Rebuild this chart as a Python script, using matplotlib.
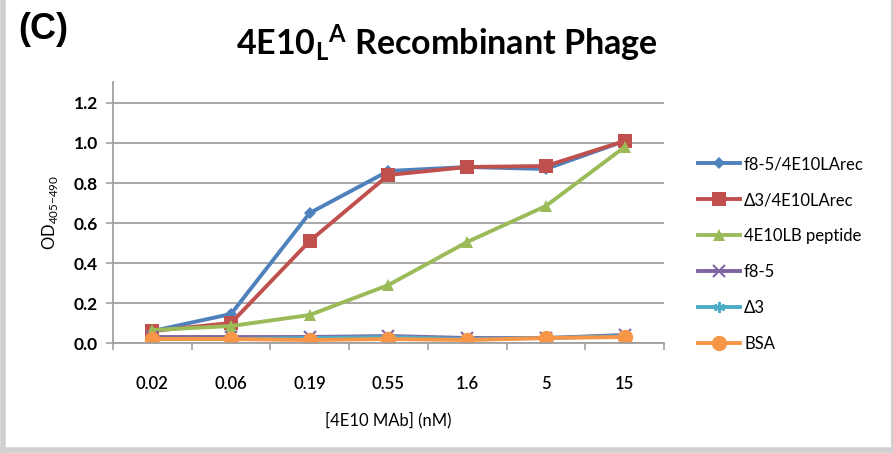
import numpy as np
import matplotlib
matplotlib.use("Agg")
import matplotlib.pyplot as plt
from matplotlib.lines import Line2D

##### Data #####
conc_labels = ["0.02", "0.06", "0.19", "0.55", "1.6", "5", "15"]
f85_4e10 = [0.06, 0.145, 0.65, 0.86, 0.88, 0.87, 1.01]
d3_4e10 = [0.06, 0.10, 0.51, 0.84, 0.88, 0.885, 1.01]
pep_4e10lb = [0.065, 0.085, 0.14, 0.29, 0.505, 0.685, 0.98]
f85 = [0.03, 0.03, 0.03, 0.035, 0.025, 0.025, 0.04]
d3 = [0.02, 0.02, 0.025, 0.03, 0.02, 0.025, 0.035]
bsa = [0.02, 0.02, 0.015, 0.02, 0.015, 0.025, 0.03]

series_names = ["f8-5/4E10LArec", "Δ3/4E10LArec", "4E10LB peptide", "f8-5", "Δ3", "BSA"]
series_vals = [f85_4e10, d3_4e10, pep_4e10lb, f85, d3, bsa]
colors = ["#4F81BD", "#C0504D", "#9BBB59", "#8064A2", "#4BACC6", "#F79646"]
markers = ["D", "s", "^", "x", (6, 2, 0), "o"]
msizes = [6, 10, 9, 8, 8, 11]

plt.rcParams['font.family'] = ['Lato', 'DejaVu Sans']
plt.rcParams['mathtext.fontset'] = 'custom'
plt.rcParams['mathtext.rm'] = 'Lato'
plt.rcParams['mathtext.bf'] = 'Lato:bold'

fig = plt.figure(figsize=(8.93, 4.53), dpi=100)
ax = fig.add_axes([0.1265, 0.2428, 0.617, 0.5762])

x = np.arange(len(conc_labels))
for name, vals, c, m, ms in zip(series_names, series_vals, colors, markers, msizes):
    mew = 1.5 if m in ("x", (6, 2, 0)) else 0
    ax.plot(x, vals, color=c, linewidth=2.8, marker=m, markersize=ms,
            markeredgewidth=mew, markeredgecolor=c, label=name)

ax.set_xlim(-0.5, len(conc_labels) - 0.5)
ax.set_ylim(0, 1.305)
ax.set_yticks(np.arange(0, 1.21, 0.2))
ax.set_yticklabels(["%.1f" % v for v in np.arange(0, 1.21, 0.2)], fontsize=12.5, fontweight='bold')
ax.set_xticks(x)
ax.set_xticklabels(conc_labels, fontsize=12, fontweight='semibold')
ax.set_xticks(np.arange(-0.5, len(conc_labels)), minor=True)
ax.tick_params(axis='x', which='major', length=0, pad=24)
ax.tick_params(axis='x', which='minor', length=5, color='#A0A0A0', width=1.2)
ax.tick_params(axis='y', length=5, color='#A0A0A0', width=1.2, pad=6)
ax.grid(axis='y', color='#A0A0A0', linewidth=1.3)
ax.set_axisbelow(True)
for s in ["top", "right"]:
    ax.spines[s].set_visible(False)
ax.spines["left"].set_color('#A0A0A0')
ax.spines["bottom"].set_color('#A0A0A0')
ax.spines["left"].set_linewidth(1.3)
ax.spines["bottom"].set_linewidth(1.3)

ax.set_xlabel("[4E10 MAb] (nM)", fontsize=12, labelpad=14)
ax.set_ylabel("OD$_{405\\mathrm{-}490}$", fontsize=12, labelpad=10)

fig.text(0.5, 0.905, "$\\mathbf{4E10_{L}{}^{A}}$ Recombinant Phage",
         ha='center', va='center', fontsize=24.5, fontweight='bold')
fig.text(0.02, 0.935, "(C)", ha='left', va='center', fontsize=26, fontweight='bold',
         family=['Liberation Sans', 'DejaVu Sans'])

leg = ax.legend(loc='center left', bbox_to_anchor=(1.035, 0.34), frameon=False,
                fontsize=12, labelspacing=1.2, handlelength=2.5, handletextpad=0.25)

# gray window border like the screenshot (left, bottom, right)
fig.add_artist(Line2D([0.003, 0.003], [0, 1], transform=fig.transFigure, color='#D0D0D0', linewidth=4))
fig.add_artist(Line2D([0, 1], [0.006, 0.006], transform=fig.transFigure, color='#D0D0D0', linewidth=4))
fig.add_artist(Line2D([0.999, 0.999], [0, 1], transform=fig.transFigure, color='#D0D0D0', linewidth=1.5))

fig.savefig("out.png", dpi=100)
